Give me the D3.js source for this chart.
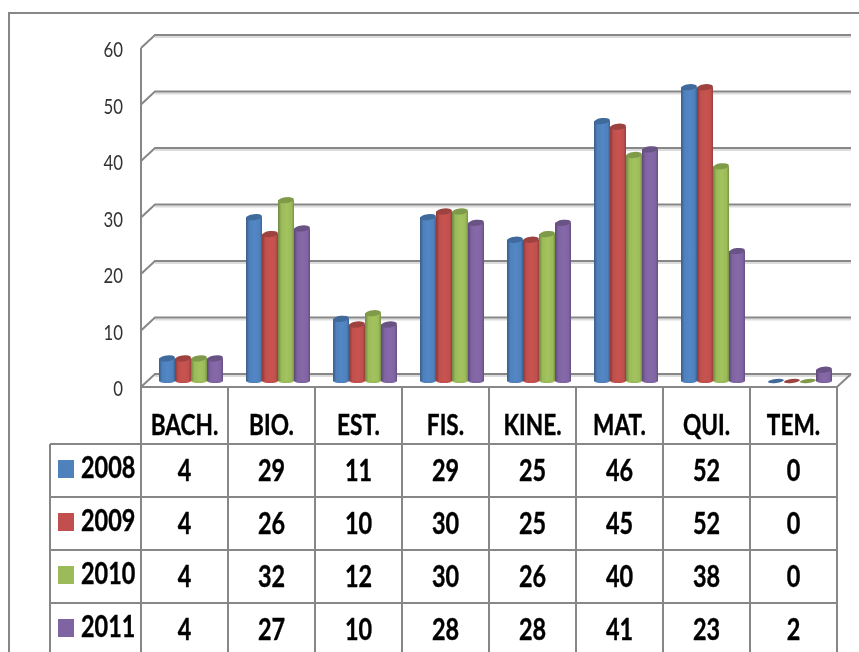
<!DOCTYPE html>
<html>
<head>
<meta charset="utf-8">
<script src="https://cdnjs.cloudflare.com/ajax/libs/d3/7.8.5/d3.min.js"></script>
<style>
	html, body { margin: 0; padding: 0; background: #fff; }
	svg { display: block; }
	text { font-family: Lato, "Open Sans", sans-serif; }
</style>
</head>
<body>
<div id="chart"></div>
<script>
const categories = ['BACH.', 'BIO.', 'EST.', 'FIS.', 'KINE.', 'MAT.', 'QUI.', 'TEM.'];
const years = ['2008', '2009', '2010', '2011'];
const values2008 = [4, 29, 11, 29, 25, 46, 52, 0];
const values2009 = [4, 26, 10, 30, 25, 45, 52, 0];
const values2010 = [4, 32, 12, 30, 26, 40, 38, 0];
const values2011 = [4, 27, 10, 28, 28, 41, 23, 2];
const yTicks = [0, 10, 20, 30, 40, 50, 60];
const colors = ['#4f81bd', '#c0504d', '#9bbb59', '#8064a2'];
const seriesValues = [values2008, values2009, values2010, values2011];

const width = 859, height = 652;
const lineColor = '#878787';
const depthX = 14, depthY = 13;	// back wall offset
const barDepthY = 7;	// bars stand half way back

const svg = d3.select('#chart').append('svg')
	.attr('width', width)
	.attr('height', height);

const defs = svg.append('defs');

// the reference is a soft, resampled picture
defs.append('filter').attr('id', 'soft')
	.attr('x', '-2%').attr('y', '-2%').attr('width', '104%').attr('height', '104%')
	.append('feGaussianBlur').attr('stdDeviation', 0.55);

colors.forEach(function(c, i) {
	const grad = defs.append('linearGradient').attr('id', 'cyl' + i);
	const base = d3.color(c);
	grad.append('stop').attr('offset', '0%').attr('stop-color', base.darker(0.9));
	grad.append('stop').attr('offset', '22%').attr('stop-color', base);
	grad.append('stop').attr('offset', '55%').attr('stop-color', base.brighter(0.12));
	grad.append('stop').attr('offset', '85%').attr('stop-color', base);
	grad.append('stop').attr('offset', '100%').attr('stop-color', base.darker(0.7));
});

const root = svg.append('g').attr('filter', 'url(#soft)');

const x = d3.scaleBand().domain(categories).range([141, 837]);
const xInner = d3.scaleBand().domain(years).range([18, 82]);
const y = d3.scaleLinear().domain([0, 60]).range([374, 35]);
const rowY = d3.scaleBand().domain(years).range([444, 656]);

// outer frame
root.append('path')
	.attr('d', d3.line()([[9, height], [9, 13], [width, 13]]))
	.attr('fill', 'none')
	.attr('stroke', lineColor)
	.attr('stroke-width', 2);

// back wall gridlines with the short diagonal on the left wall
const grid = root.append('g').attr('fill', 'none').attr('stroke', lineColor).attr('stroke-width', 2);
yTicks.forEach(function(t) {
	// pale shadow under each gridline
	grid.append('line')
		.attr('x1', 141 + depthX).attr('x2', 837 + depthX)
		.attr('y1', y(t) + 2).attr('y2', y(t) + 2)
		.attr('stroke', '#dcdcdc');
	grid.append('path').attr('d', d3.line()([
		[141, y(t) + depthY],
		[141 + depthX, y(t)],
		[837 + depthX, y(t)]
	]));
});
// left wall and floor edge
grid.append('path').attr('d', d3.line()([[141, y(60) + depthY], [141, y(0) + depthY]]));
grid.append('path').attr('d', d3.line()([[837 + depthX, y(0)], [837, y(0) + depthY], [141, y(0) + depthY]]));

// value axis
const axis = root.append('g')
	.attr('transform', 'translate(123,' + (depthY + 2) + ')')
	.call(d3.axisLeft(y).tickValues(yTicks).tickSize(0).tickPadding(0));
axis.select('.domain').remove();
axis.selectAll('text')
	.attr('font-size', 21)
	.attr('transform', 'scale(0.8,1)')
	.attr('x', 0)
	.style('font-family', 'Lato, sans-serif')
	.attr('fill', '#333');

// cylinders
const barH = 6;
years.forEach(function(year, s) {
	const g = root.append('g');
	const w = xInner.bandwidth();
	categories.forEach(function(cat, i) {
		const v = seriesValues[s][i];
		const x0 = x(cat) + xInner(year);
		const top = y(v) + barDepthY;
		const bottom = y(0) + barDepthY;
		if (v > 0) {
			g.append('ellipse')
				.attr('cx', x0 + w / 2).attr('cy', bottom)
				.attr('rx', w / 2).attr('ry', barH / 2 - 1)
				.attr('fill', colors[s]);
			g.append('rect')
				.attr('x', x0).attr('y', top)
				.attr('width', w).attr('height', bottom - top)
				.attr('fill', 'url(#cyl' + s + ')');
		}
		g.append('ellipse')
			.attr('transform', 'rotate(-7,' + (x0 + w / 2) + ',' + top + ')')
			.attr('cx', x0 + w / 2).attr('cy', top)
			.attr('rx', w / 2).attr('ry', v > 0 ? barH / 2 : 2)
			.attr('fill', d3.color(colors[s]).darker(0.55));
	});
});

// data table lines
const table = root.append('g').attr('stroke', lineColor).attr('stroke-width', 2);
x.domain().concat(['end']).forEach(function(cat) {
	const lx = cat === 'end' ? x.range()[1] : x(cat);
	table.append('line').attr('x1', lx).attr('x2', lx).attr('y1', y(0) + depthY).attr('y2', height);
});
table.append('line').attr('x1', 50).attr('x2', 50).attr('y1', 444).attr('y2', height);
years.forEach(function(year) {
	table.append('line').attr('x1', 50).attr('x2', 837).attr('y1', rowY(year)).attr('y2', rowY(year));
});

// narrow text: Calibri look, squeezed sideways
function cellText(px, py, str, anchor, size) {
	root.append('text')
		.attr('transform', 'translate(' + px + ',' + py + ') scale(0.78,1)')
		.attr('text-anchor', anchor)
		.attr('font-size', size)
		.attr('font-weight', 700)
		.attr('fill', '#000')
		.attr('stroke', '#000')
		.attr('stroke-width', 0.4)
		.text(str);
}

categories.forEach(function(cat) {
	cellText(x(cat) + x.bandwidth() / 2, 435, cat, 'middle', 29);
});

years.forEach(function(year, s) {
	const ry = rowY(year);
	root.append('rect')
		.attr('x', 58).attr('y', ry + 16)
		.attr('width', 16).attr('height', 18)
		.attr('fill', colors[s]);
	cellText(81, ry + 34, year, 'start', 30);
	categories.forEach(function(cat, i) {
		cellText(x(cat) + x.bandwidth() / 2, ry + 36.5, seriesValues[s][i], 'middle', 30);
	});
});
</script>
</body>
</html>
